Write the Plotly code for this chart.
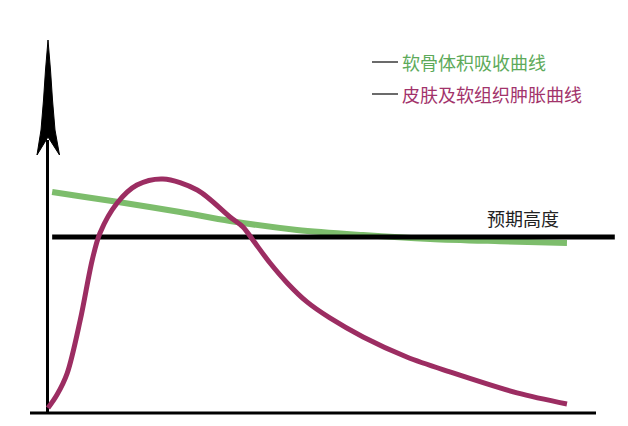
import plotly.graph_objects as go

# ---- data (time in arbitrary units 0..100, height relative to expected height = 100) ----
cartilage_t = [0.8, 7.1, 13.5, 25.4, 35.0, 47.9, 60.6, 73.5, 86.9, 99.8]
cartilage_h = [125.6, 122.7, 119.9, 114.2, 109.1, 104.0, 101.1, 98.9, 97.6, 96.6]

swelling_t = [0.0, 1.7, 3.7, 6.2, 8.5, 10.0, 13.3, 17.1, 22.1, 28.7, 35.0, 37.5, 39.4,
              42.7, 46.0, 49.8, 54.2, 60.6, 69.0, 77.3, 90.2, 99.8]
swelling_h = [2.8, 10.2, 22.7, 52.8, 86.9, 102.3, 119.3, 129.5, 133.0, 126.7, 111.4, 105.7, 98.3,
              85.2, 73.9, 63.1, 54.0, 43.2, 31.8, 23.3, 11.4, 5.1]

expected_height = 100
expected_span = [0.8, 109.0]
legend_labels = ["软骨体积吸收曲线", "皮肤及软组织肿胀曲线"]
expected_label = "预期高度"

GREEN = "#7dbd6c"
MAGENTA = "#9c2d62"
GREEN_TXT = "#5daa5a"
MAGENTA_TXT = "#a2336b"

# page body has an 8px default margin; figure occupies screen pixels 8..628 x 8..426
OFF = 8
W, H = 628 - OFF, 426 - OFF
def px(x):
    return (x - 48) / 5.2
def py(y):
    return (413 - y) / 1.76
XR = [px(OFF), px(628)]
YR = [py(426), py(OFF)]

fig = go.Figure()

fig.add_trace(go.Scatter(x=cartilage_t, y=cartilage_h, mode="lines",
                         line=dict(color=GREEN, width=6, shape="spline", smoothing=0.9),
                         hoverinfo="skip", showlegend=False))
fig.add_trace(go.Scatter(x=expected_span, y=[expected_height, expected_height], mode="lines",
                         line=dict(color="#000000", width=5),
                         hoverinfo="skip", showlegend=False))
fig.add_trace(go.Scatter(x=swelling_t, y=swelling_h, mode="lines",
                         line=dict(color=MAGENTA, width=5, shape="spline", smoothing=0.9),
                         hoverinfo="skip", showlegend=False))

shapes = []
# x axis
shapes.append(dict(type="line", xref="x", yref="y", x0=px(30), x1=px(596), y0=0, y1=0,
                   line=dict(color="#000", width=3), layer="below"))
# y axis
shapes.append(dict(type="line", xref="x", yref="y", x0=px(47.5), x1=px(47.5), y0=0, y1=py(140),
                   line=dict(color="#000", width=3), layer="below"))
# arrow head
pts = [(48, 40), (45.5, 70), (43.5, 100), (41, 130), (37, 155), (48, 137),
       (59.5, 155), (55, 130), (52.5, 100), (50.5, 70), (48, 40)]
path = "M " + " L ".join(f"{px(a):.3f},{py(b):.3f}" for a, b in pts) + " Z"
shapes.append(dict(type="path", xref="x", yref="y", path=path,
                   fillcolor="#000", line=dict(color="#000", width=1)))
# legend dashes
for yy in (62, 94):
    shapes.append(dict(type="line", xref="x", yref="y", x0=px(372), x1=px(398), y0=py(yy), y1=py(yy),
                       line=dict(color="#3a3a3a", width=1.5)))
# faint edge line at the right
shapes.append(dict(type="line", xref="x", yref="y", x0=px(626), x1=px(626), y0=py(198), y1=py(308),
                   line=dict(color="#9a9a9a", width=1.2)))

font_family = "Noto Sans CJK SC"
annotations = [
    dict(x=px(400), y=py(62), xref="x", yref="y", text=legend_labels[0], showarrow=False,
         xanchor="left", yanchor="middle", font=dict(family=font_family, size=18, color=GREEN_TXT)),
    dict(x=px(400), y=py(94), xref="x", yref="y", text=legend_labels[1], showarrow=False,
         xanchor="left", yanchor="middle", font=dict(family=font_family, size=18, color=MAGENTA_TXT)),
    dict(x=px(485), y=py(218), xref="x", yref="y", text=expected_label, showarrow=False,
         xanchor="left", yanchor="middle", font=dict(family=font_family, size=18, color="#222222")),
]

fig.update_layout(
    width=W, height=H,
    margin=dict(l=0, r=0, t=0, b=0),
    paper_bgcolor="white", plot_bgcolor="white",
    xaxis=dict(range=XR, visible=False, fixedrange=True),
    yaxis=dict(range=YR, visible=False, fixedrange=True),
    shapes=shapes, annotations=annotations,
)

fig.write_html("out.html", config={"displayModeBar": False})
